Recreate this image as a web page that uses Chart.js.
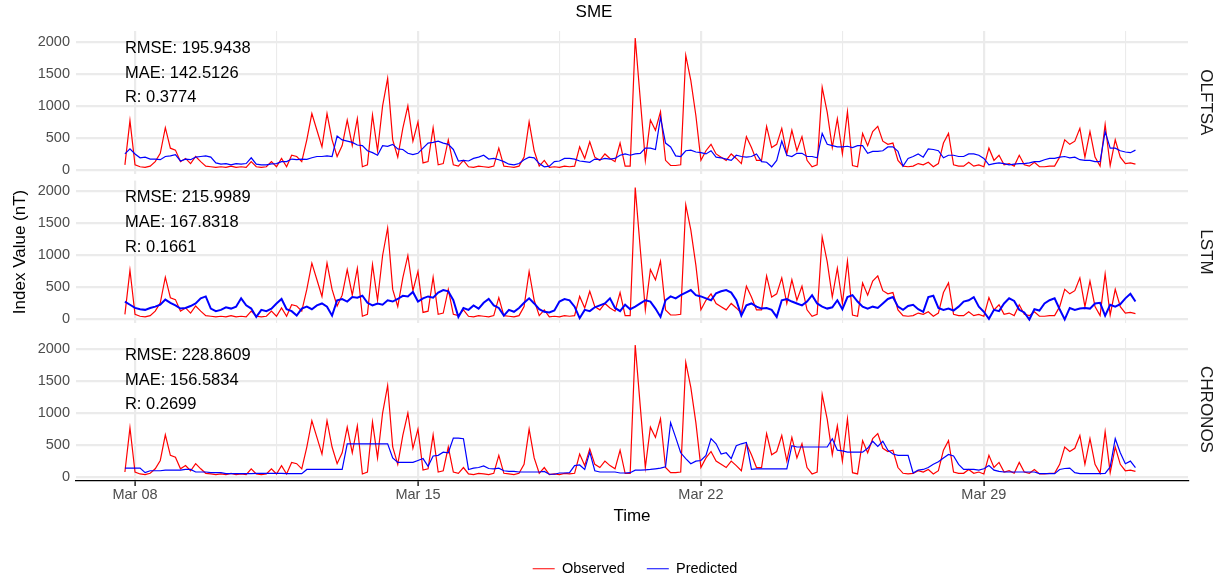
<!DOCTYPE html>
<html>
<head>
<meta charset="utf-8">
<title>SME</title>
<script src="https://cdn.jsdelivr.net/npm/chart.js@4.4.1/dist/chart.umd.min.js"></script>
<style>
  body { margin: 0; background: #fff; }
  #wrap { position: relative; width: 1222px; height: 580px; }
  #wrap canvas { position: absolute; left: 0; top: 0; }
</style>
</head>
<body>
<div id="wrap">
  <canvas id="c1" width="1222" height="580"></canvas>
  <canvas id="c2" width="1222" height="580"></canvas>
  <canvas id="c3" width="1222" height="580"></canvas>
</div>
<script>
// SME index, observed vs predicted, one panel per model

// time axis is in days from Mar 08 00:00, one sample every 3 hours
const startDay = -0.25;
const stepDays = 0.125;

const dateTicks = [0, 7, 14, 21];
const dateLabels = ['Mar 08', 'Mar 15', 'Mar 22', 'Mar 29'];
const minorDateTicks = [3.5, 10.5, 17.5, 24.5];

const yTicks = [0, 500, 1000, 1500, 2000];
const yMinorTicks = [250, 750, 1250, 1750];

// observed SME (nT), same in every panel
const observed = [
  80, 770, 80, 50, 40, 60, 130, 260, 660, 340,
  310, 130, 180, 100, 210, 130, 60, 50, 40, 50,
  40, 60, 40, 50, 40, 130, 50, 40, 50, 130,
  50, 180, 50, 230, 210, 130, 470, 880, 620, 360,
  880, 470, 210, 380, 780, 380, 800, 50, 80, 860,
  300, 1000, 1430, 470, 200, 650, 1000, 450, 750, 110,
  130, 660, 80, 100, 470, 80, 60, 150, 50, 40,
  60, 50, 40, 60, 340, 60, 50, 40, 60, 200,
  750, 300, 60, 150, 40, 50, 40, 60, 50, 60,
  360, 180, 440, 200, 150, 250, 180, 130, 420, 60,
  60, 2060, 1100, 150, 780, 620, 910, 150, 70, 70,
  80, 1790, 1400, 850, 150, 300, 400, 250, 200, 150,
  250, 180, 100, 520, 350, 150, 150, 680, 350, 400,
  650, 250, 620, 300, 520, 150, 50, 80, 1290, 900,
  350, 800, 250, 910, 70, 50, 570, 380, 600, 680,
  450, 400, 420, 150, 60, 50, 60, 100, 80, 120,
  50, 100, 420, 570, 80, 60, 60, 120, 60, 80,
  50, 340, 150, 230, 80, 100, 60, 230, 80, 60,
  120, 50, 50, 60, 60, 200, 470, 400, 450, 650,
  200, 600, 200, 60, 710, 70, 470, 200, 100, 110,
  90
];

// predictions
const olftsa = [
  250, 330, 250, 190, 200, 170, 170, 160, 210, 220,
  240, 140, 170, 160, 200, 210, 220, 200, 110, 90,
  100, 80, 100, 90, 100, 190, 90, 80, 80, 95,
  100, 130, 130, 170, 160, 170, 165, 190, 210, 210,
  220, 210, 530, 470, 450, 430, 390, 380, 300, 270,
  230, 380, 370, 400, 330, 320, 260, 240, 260, 340,
  420, 430, 450, 420, 400, 320, 140, 150, 140, 180,
  200, 230, 170, 180, 160, 130, 90, 80, 100, 160,
  200, 190, 100, 50, 60, 130, 140, 180, 180, 170,
  140, 130, 120, 170, 160, 180, 170, 180, 230, 250,
  230, 250, 260, 340, 340, 320, 820, 420, 360, 220,
  210, 300, 310, 280, 270, 250, 300, 200, 190, 170,
  150, 230, 210, 200, 210, 250, 130, 120, 50, 150,
  450, 230, 210, 260, 260, 210, 210, 190, 570, 400,
  380, 360, 360, 370, 350, 380, 380, 260, 290, 290,
  300, 360, 360, 290, 60, 180, 210, 250, 200, 330,
  320, 300, 190, 230, 230, 210, 210, 250, 250, 230,
  180, 80, 100, 110, 100, 80, 90, 100, 100, 110,
  130, 130, 160, 180, 180, 200, 210, 190, 200, 160,
  150, 150, 130, 130, 600, 340, 340, 300, 280, 270,
  310
];

const lstm = [
  280, 230, 180, 160, 150, 180, 200, 230, 310, 260,
  220, 170, 180, 210, 250, 330, 360, 170, 130, 150,
  190, 170, 200, 330, 220, 170, 40, 150, 130, 170,
  250, 320, 160, 130, 60, 170, 200, 160, 220, 250,
  200, 60, 300, 320, 280, 350, 340, 370, 260, 220,
  250, 230, 300, 280, 320, 370, 360, 430, 280, 330,
  360, 340, 420, 460, 440, 300, 40, 180, 150, 220,
  170, 260, 320, 220, 180, 60, 150, 120, 180, 260,
  330, 250, 160, 120, 110, 140, 280, 320, 300, 200,
  20, 150, 130, 190, 220, 250, 330, 180, 130, 230,
  160, 200, 250, 300, 280, 170, 40, 300, 360, 330,
  380, 420, 460, 380, 360, 330, 300, 410, 440, 460,
  420, 300, 60, 220, 250, 200, 170, 180, 150, 40,
  300, 320, 280, 250, 220, 280, 380, 250, 200, 170,
  190, 300, 160, 350, 380, 280, 200, 170, 200, 180,
  250, 320, 350, 200, 150, 210, 230, 160, 120, 350,
  370, 180, 150, 170, 140, 200, 280, 300, 350, 200,
  120, 10, 150, 130, 250, 330, 290, 150, 110, 0,
  160, 140, 250, 300, 330, 160, 0, 180, 150, 170,
  180, 170, 250, 260, 60, 230, 200, 240, 330, 400,
  280
];

const chronos = [
  140, 140, 140, 140, 70, 100, 100, 100, 110, 110,
  110, 110, 120, 120, 80, 80, 80, 70, 70, 70,
  55, 55, 55, 55, 55, 55, 60, 60, 60, 60,
  60, 60, 55, 55, 55, 55, 120, 120, 120, 120,
  120, 120, 120, 120, 520, 520, 520, 520, 520, 520,
  520, 520, 520, 300, 230, 230, 230, 230, 260, 290,
  170, 330, 340, 390, 380, 610, 610, 600, 120, 140,
  150, 175, 135, 130, 140, 100, 90, 90, 80, 80,
  80, 80, 80, 90, 45, 45, 65, 65, 70, 180,
  190, 120, 390, 100, 80, 80, 80, 80, 65, 65,
  70, 110, 110, 115, 120, 130, 140, 160, 850, 620,
  380, 290, 210, 250, 260, 340, 600, 520, 360, 380,
  290, 490, 520, 540, 120, 130, 130, 130, 130, 130,
  130, 130, 490, 470, 470, 470, 470, 470, 470, 470,
  600, 420, 410, 390, 390, 390, 390, 450, 560, 480,
  560, 420, 360, 340, 340, 340, 65, 110, 120, 150,
  200, 240, 300, 355, 330, 200, 120, 120, 120, 110,
  130, 180, 110, 90, 80, 80, 80, 80, 80, 80,
  80, 55, 55, 55, 55, 120, 135, 140, 70, 55,
  55, 55, 55, 55, 60, 160, 600, 380, 210, 250,
  150
];

// metrics printed in each panel
const models = ['OLFTSA', 'LSTM', 'CHRONOS'];
const rmse = ['195.9438', '215.9989', '228.8609'];
const mae = ['142.5126', '167.8318', '156.5834'];
const corr = ['0.3774', '0.1661', '0.2699'];
const statLevels = [1900, 1510, 1130];

const fontFamily = '"Liberation Sans", Arial, Helvetica, sans-serif';
Chart.defaults.font.family = fontFamily;

function toPoints(values) {
  return values.map((v, i) => ({ x: startDay + i * stepDays, y: v }));
}

// metric text, strip label and legend nudge
const panelText = {
  id: 'panelText',
  afterLayout(chart, args, opts) {
    if (opts.legendShift && chart.legend) {
      chart.legend.left += opts.legendShift;
      chart.legend.right += opts.legendShift;
    }
  },
  afterDatasetsDraw(chart, args, opts) {
    const { ctx, chartArea, scales } = chart;
    ctx.save();
    ctx.fillStyle = '#000';
    ctx.font = '16.5px ' + fontFamily;
    ctx.textBaseline = 'middle';
    ctx.textAlign = 'left';
    const x = scales.x.getPixelForValue(startDay);
    opts.lines.forEach((t, i) => {
      ctx.fillText(t, x, scales.y.getPixelForValue(statLevels[i]));
    });
    ctx.translate(1206, (chartArea.top + chartArea.bottom) / 2);
    ctx.rotate(Math.PI / 2);
    ctx.textAlign = 'center';
    ctx.fillStyle = '#1A1A1A';
    ctx.font = '17px ' + fontFamily;
    ctx.fillText(opts.strip, 0, 0);
    ctx.restore();
  }
};

const panels = [
  { id: 'c1', pred: olftsa, padTop: 0, padBottom: 406.2 },
  { id: 'c2', pred: lstm, padTop: 180.6, padBottom: 256.7 },
  { id: 'c3', pred: chronos, padTop: 338, padBottom: -6 }
];

panels.forEach((p, idx) => {
  const isFirst = idx === 0;
  const isMiddle = idx === 1;
  const isLast = idx === panels.length - 1;

  const config = {
    type: 'line',
    data: {
      datasets: [
        {
          label: 'Observed',
          data: toPoints(observed),
          borderColor: '#FF0000',
          backgroundColor: '#FF0000',
          borderWidth: 1.2,
          order: 2
        },
        {
          label: 'Predicted',
          data: toPoints(p.pred),
          borderColor: '#0000FF',
          backgroundColor: '#0000FF',
          // the LSTM output is a noisy band, draw it heavier
          borderWidth: isMiddle ? 2 : 1.2,
          order: 1
        }
      ]
    },
    options: {
      responsive: false,
      animation: false,
      events: [],
      normalized: true,
      elements: { point: { radius: 0 }, line: { tension: 0 } },
      layout: { padding: { top: p.padTop, bottom: p.padBottom, left: 0, right: 34 } },
      plugins: {
        tooltip: { enabled: false },
        title: {
          display: isFirst,
          text: 'SME',
          color: '#000',
          font: { size: 17, weight: 'normal' },
          padding: { top: 2, bottom: 8.6 }
        },
        legend: {
          display: isLast,
          position: 'bottom',
          labels: {
            usePointStyle: true,
            pointStyle: 'line',
            pointStyleWidth: 22,
            padding: 22,
            color: '#000',
            font: { size: 14.5 },
            // keep Observed first even though it is drawn underneath
            sort: (a, b) => a.datasetIndex - b.datasetIndex
          }
        },
        panelText: {
          strip: models[idx],
          lines: ['RMSE: ' + rmse[idx], 'MAE: ' + mae[idx], 'R: ' + corr[idx]],
          legendShift: isLast ? 41 : 0
        }
      },
      scales: {
        x: {
          type: 'linear',
          min: -1.46,
          max: 26.05,
          bounds: 'data',
          afterBuildTicks: scale => {
            scale.ticks = [...dateTicks, ...minorDateTicks].sort((a, b) => a - b).map(v => ({ value: v }));
          },
          afterFit: scale => { scale.height = isLast ? 58.5 : 0; },
          border: { display: isLast, color: '#000', width: 1.3 },
          grid: {
            color: '#EBEBEB',
            lineWidth: c => (c.tick && dateTicks.includes(c.tick.value) ? 2.2 : 1.1),
            drawTicks: isLast,
            tickLength: 5,
            tickWidth: 1.3,
            tickColor: c => (c.tick && dateTicks.includes(c.tick.value) ? '#000' : 'rgba(0,0,0,0)')
          },
          ticks: {
            display: isLast,
            autoSkip: false,
            maxRotation: 0,
            padding: 0,
            color: '#4D4D4D',
            font: { size: 14.5 },
            callback: v => {
              const i = dateTicks.indexOf(v);
              return i >= 0 ? dateLabels[i] : '';
            }
          },
          title: {
            display: isLast,
            text: 'Time',
            color: '#000',
            font: { size: 17 },
            padding: { top: 0, bottom: 13.3 }
          }
        },
        y: {
          min: -60,
          max: 2170,
          bounds: 'data',
          afterBuildTicks: scale => {
            scale.ticks = [...yTicks, ...yMinorTicks].sort((a, b) => a - b).map(v => ({ value: v }));
          },
          afterFit: scale => { scale.width = 76; },
          border: { display: false },
          grid: {
            color: '#EBEBEB',
            lineWidth: c => (c.tick && yTicks.includes(c.tick.value) ? 2.2 : 1.1),
            drawTicks: false
          },
          ticks: {
            padding: 6,
            color: '#4D4D4D',
            font: { size: 14.5 },
            callback: v => (yTicks.includes(v) ? String(v) : '')
          },
          title: {
            display: isMiddle,
            text: 'Index Value (nT)',
            color: '#000',
            font: { size: 17 },
            padding: { top: 10, bottom: 0 }
          }
        }
      }
    },
    plugins: [panelText]
  };

  new Chart(document.getElementById(p.id).getContext('2d'), config);
});
</script>
</body>
</html>
